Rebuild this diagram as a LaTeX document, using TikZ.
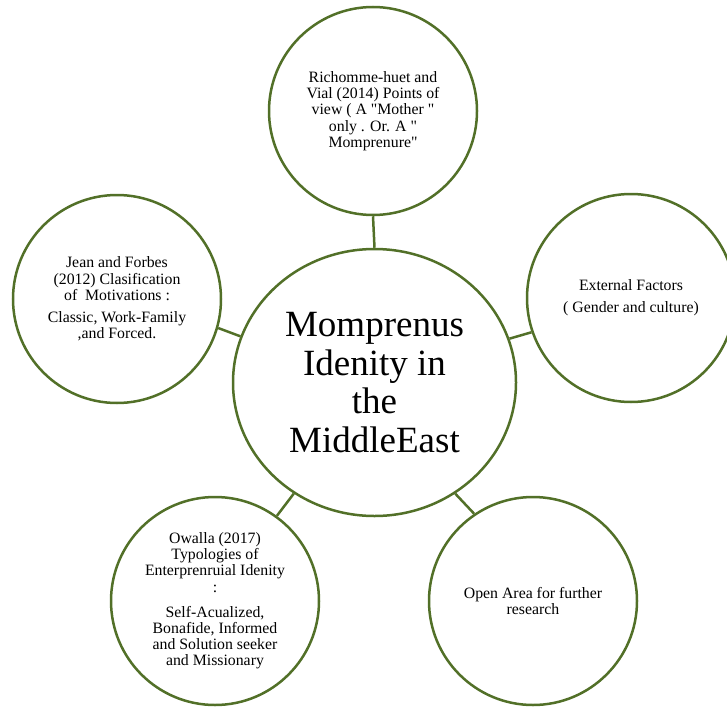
\documentclass[tikz,border=0pt]{standalone}
\usepackage{fontspec}
\setmainfont{Liberation Serif}[Ligatures=TeXOff]
\usetikzlibrary{shapes.geometric}
\definecolor{olive}{RGB}{82,112,40}
\tikzset{
  bubble/.style={circle, draw=olive, line width=2.5pt, fill=white, inner sep=0pt,
    minimum size=208pt, align=center,
    font=\fontsize{15.8pt}{16.2pt}\selectfont},
  hub/.style={ellipse, draw=olive, line width=2.5pt, fill=white, inner sep=0pt,
    minimum width=283pt, minimum height=267pt, align=center,
    font=\fontsize{37pt}{38.5pt}\selectfont},
  link/.style={draw=olive, line width=2.5pt}
}
\begin{document}
\begin{tikzpicture}[x=1pt,y=-1pt]
\useasboundingbox (0,0) rectangle (727,706);
\node[hub] (hub) at (374.5,382.5) {Momprenus\\Idenity in\\the\\MiddleEast};
\node[bubble] (top) at (373,111) {Richomme-huet and\\Vial (2014) Points of\\view ( A "Mother "\\only . Or. A "\\Momprenure"};
\node[bubble] (left) at (117,299) {Jean and Forbes\\(2012) Clasification\\of\ \ Motivations :\\[6pt]Classic, Work-Family\\,and Forced.};
\node[bubble] (right) at (631,298) {External Factors\\[6pt]( Gender and culture)};
\node[bubble] (bl) at (215,601) {Owalla (2017)\\Typologies of\\Enterprenruial Idenity\\:\\[9pt]Self-Acualized,\\Bonafide, Informed\\and Solution seeker\\and Missionary};
\node[bubble] (br) at (533,601) {Open Area for further\\research};
\draw[link] (hub.90) -- (top.-90);
\draw[link] (hub.161.7) -- (left.-16.2);
\draw[link] (hub.18.4) -- (right.-161.4);
\draw[link] (hub.-126) -- (bl.54.2);
\draw[link] (hub.-54) -- (br.124.9);
\end{tikzpicture}
\end{document}
